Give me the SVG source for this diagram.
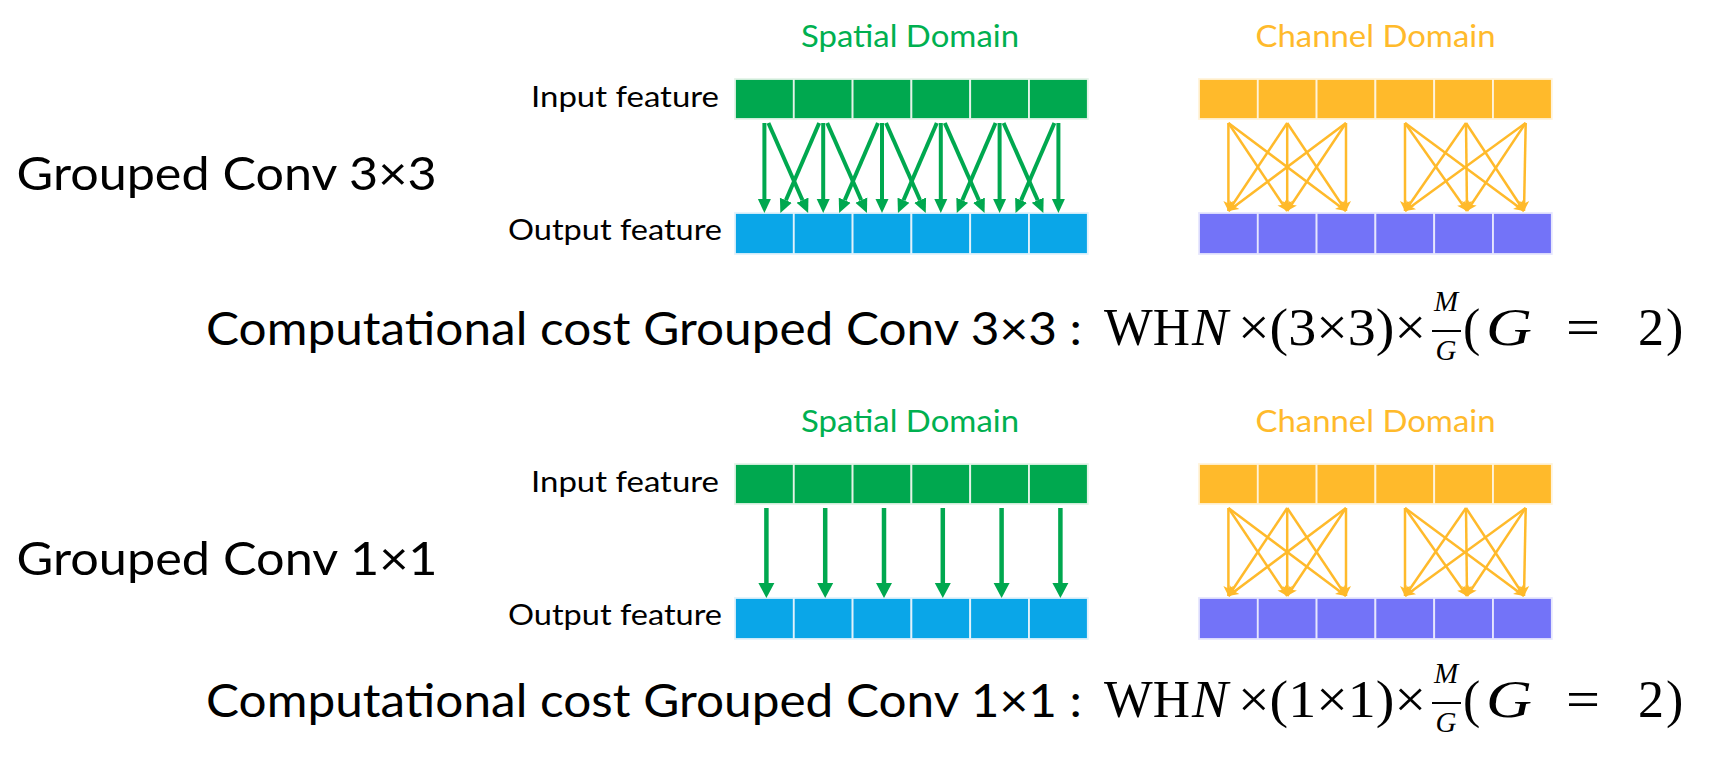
<svg xmlns="http://www.w3.org/2000/svg" width="1731" height="761" viewBox="0 0 1731 761">
<style>
.sans{font-family:Lato,"Open Sans","Liberation Sans",sans-serif;}
.math{font-family:"Liberation Serif","DejaVu Serif",serif;fill:#000;}
.mm{font-size:52px;}
.fr{font-size:29px;font-style:italic;text-anchor:middle;}
.it{font-style:italic;}
.lbl{font-size:29.5px;fill:#000;text-anchor:end;}
.dom{font-size:30px;text-anchor:middle;}
.big{font-size:46px;fill:#000;}
.g{fill:#00A84F;stroke:#E4F3E8;stroke-width:1.8;}
.b{fill:#0AA6E8;stroke:#E2F2FB;stroke-width:1.8;}
.o{fill:#FFBA2B;stroke:#FFF3DA;stroke-width:1.8;}
.p{fill:#7373F8;stroke:#E6E6FD;stroke-width:1.8;}
.ga{stroke:#00A84F;stroke-width:4;fill:none;marker-end:url(#ag);}
.ga2{stroke:#00A84F;stroke-width:4.5;fill:none;marker-end:url(#ag2);}
.oa{stroke:#FFBA2B;stroke-width:2.5;fill:none;marker-end:url(#ao);}
</style>
<defs>
<marker id="ag" viewBox="0 -7 15 14" markerWidth="15" markerHeight="14" refX="0" refY="0" markerUnits="userSpaceOnUse" orient="auto"><path d="M0,-6.5 L14,0 L0,6.5 z" fill="#00A84F"/></marker>
<marker id="ag2" viewBox="0 -9 16 18" markerWidth="16" markerHeight="18" refX="0" refY="0" markerUnits="userSpaceOnUse" orient="auto"><path d="M0,-8 L15,0 L0,8 z" fill="#00A84F"/></marker>
<marker id="ao" viewBox="0 -6 11 12" markerWidth="11" markerHeight="12" refX="10" refY="0" markerUnits="userSpaceOnUse" orient="auto"><path d="M0,-5 L10,0 L0,5 L2.5,0 z" fill="#FFBA2B"/></marker>
</defs>

<g id="label-grouped-3x3"><text class="sans big" x="16.6" y="190" textLength="420" lengthAdjust="spacingAndGlyphs">Grouped Conv 3×3</text></g>
<g id="label-grouped-1x1"><text class="sans big" x="16.6" y="575" textLength="421" lengthAdjust="spacingAndGlyphs">Grouped Conv 1×1</text></g>

<!-- Top section -->
<g id="spatial-title-1"><text class="sans dom" x="910" y="46.7" fill="#00B050" textLength="218" lengthAdjust="spacingAndGlyphs">Spatial Domain</text></g>
<g id="channel-title-1"><text class="sans dom" x="1375.5" y="46.7" fill="#FFBA2B" textLength="240" lengthAdjust="spacingAndGlyphs">Channel Domain</text></g>
<g id="input-label-1"><text class="sans lbl" x="719" y="107.3" textLength="188" lengthAdjust="spacingAndGlyphs">Input feature</text></g>
<g id="output-label-1"><text class="sans lbl" x="722" y="240" textLength="214" lengthAdjust="spacingAndGlyphs">Output feature</text></g>

<g id="spatial-input-1">
<rect class="g" x="735" y="79" width="58.8" height="40"/><rect class="g" x="793.8" y="79" width="58.8" height="40"/><rect class="g" x="852.6" y="79" width="58.8" height="40"/><rect class="g" x="911.4" y="79" width="58.8" height="40"/><rect class="g" x="970.2" y="79" width="58.8" height="40"/><rect class="g" x="1029" y="79" width="58.8" height="40"/>
</g>
<g id="spatial-output-1">
<rect class="b" x="735" y="213" width="58.8" height="41"/><rect class="b" x="793.8" y="213" width="58.8" height="41"/><rect class="b" x="852.6" y="213" width="58.8" height="41"/><rect class="b" x="911.4" y="213" width="58.8" height="41"/><rect class="b" x="970.2" y="213" width="58.8" height="41"/><rect class="b" x="1029" y="213" width="58.8" height="41"/>
</g>
<g id="channel-input-1">
<rect class="o" x="1199" y="79" width="58.8" height="40"/><rect class="o" x="1257.8" y="79" width="58.8" height="40"/><rect class="o" x="1316.6" y="79" width="58.8" height="40"/><rect class="o" x="1375.4" y="79" width="58.8" height="40"/><rect class="o" x="1434.2" y="79" width="58.8" height="40"/><rect class="o" x="1493" y="79" width="58.8" height="40"/>
</g>
<g id="channel-output-1">
<rect class="p" x="1199" y="213" width="58.8" height="41"/><rect class="p" x="1257.8" y="213" width="58.8" height="41"/><rect class="p" x="1316.6" y="213" width="58.8" height="41"/><rect class="p" x="1375.4" y="213" width="58.8" height="41"/><rect class="p" x="1434.2" y="213" width="58.8" height="41"/><rect class="p" x="1493" y="213" width="58.8" height="41"/>
</g>

<g id="formula-1">
<text class="sans big" x="206" y="345" textLength="876" lengthAdjust="spacingAndGlyphs">Computational cost Grouped Conv 3×3 :</text>
<text class="math mm" x="1104" y="345" textLength="86" lengthAdjust="spacingAndGlyphs">WH</text>
<text class="math mm it" x="1192" y="345" textLength="36" lengthAdjust="spacingAndGlyphs">N</text>
<text class="math mm" x="1238" y="345" textLength="188" lengthAdjust="spacingAndGlyphs">×(3×3)×</text>
<text class="math fr" x="1446" y="311">M</text>
<line x1="1432" y1="331" x2="1461" y2="331" stroke="#000" stroke-width="2"/>
<text class="math fr" x="1446" y="360">G</text>
<text class="math mm" x="1463" y="345">(</text>
<text class="math mm it" x="1486" y="345" textLength="46" lengthAdjust="spacingAndGlyphs">G</text>
<text class="math mm" x="1566" y="345" textLength="34" lengthAdjust="spacingAndGlyphs">=</text>
<text class="math mm" x="1638" y="345">2</text>
<text class="math mm" x="1666" y="345">)</text>
</g>

<!-- Bottom section -->
<g id="spatial-title-2"><text class="sans dom" x="910" y="431.7" fill="#00B050" textLength="218" lengthAdjust="spacingAndGlyphs">Spatial Domain</text></g>
<g id="channel-title-2"><text class="sans dom" x="1375.5" y="431.7" fill="#FFBA2B" textLength="240" lengthAdjust="spacingAndGlyphs">Channel Domain</text></g>
<g id="input-label-2"><text class="sans lbl" x="719" y="492.3" textLength="188" lengthAdjust="spacingAndGlyphs">Input feature</text></g>
<g id="output-label-2"><text class="sans lbl" x="722" y="625" textLength="214" lengthAdjust="spacingAndGlyphs">Output feature</text></g>

<g id="spatial-input-2">
<rect class="g" x="735" y="464" width="58.8" height="40"/><rect class="g" x="793.8" y="464" width="58.8" height="40"/><rect class="g" x="852.6" y="464" width="58.8" height="40"/><rect class="g" x="911.4" y="464" width="58.8" height="40"/><rect class="g" x="970.2" y="464" width="58.8" height="40"/><rect class="g" x="1029" y="464" width="58.8" height="40"/>
</g>
<g id="spatial-output-2">
<rect class="b" x="735" y="598" width="58.8" height="41"/><rect class="b" x="793.8" y="598" width="58.8" height="41"/><rect class="b" x="852.6" y="598" width="58.8" height="41"/><rect class="b" x="911.4" y="598" width="58.8" height="41"/><rect class="b" x="970.2" y="598" width="58.8" height="41"/><rect class="b" x="1029" y="598" width="58.8" height="41"/>
</g>
<g id="channel-input-2">
<rect class="o" x="1199" y="464" width="58.8" height="40"/><rect class="o" x="1257.8" y="464" width="58.8" height="40"/><rect class="o" x="1316.6" y="464" width="58.8" height="40"/><rect class="o" x="1375.4" y="464" width="58.8" height="40"/><rect class="o" x="1434.2" y="464" width="58.8" height="40"/><rect class="o" x="1493" y="464" width="58.8" height="40"/>
</g>
<g id="channel-output-2">
<rect class="p" x="1199" y="598" width="58.8" height="41"/><rect class="p" x="1257.8" y="598" width="58.8" height="41"/><rect class="p" x="1316.6" y="598" width="58.8" height="41"/><rect class="p" x="1375.4" y="598" width="58.8" height="41"/><rect class="p" x="1434.2" y="598" width="58.8" height="41"/><rect class="p" x="1493" y="598" width="58.8" height="41"/>
</g>

<g id="formula-2">
<text class="sans big" x="206" y="717" textLength="876" lengthAdjust="spacingAndGlyphs">Computational cost Grouped Conv 1×1 :</text>
<text class="math mm" x="1104" y="717" textLength="86" lengthAdjust="spacingAndGlyphs">WH</text>
<text class="math mm it" x="1192" y="717" textLength="36" lengthAdjust="spacingAndGlyphs">N</text>
<text class="math mm" x="1238" y="717" textLength="188" lengthAdjust="spacingAndGlyphs">×(1×1)×</text>
<text class="math fr" x="1446" y="683">M</text>
<line x1="1432" y1="703" x2="1461" y2="703" stroke="#000" stroke-width="2"/>
<text class="math fr" x="1446" y="732">G</text>
<text class="math mm" x="1463" y="717">(</text>
<text class="math mm it" x="1486" y="717" textLength="46" lengthAdjust="spacingAndGlyphs">G</text>
<text class="math mm" x="1566" y="717" textLength="34" lengthAdjust="spacingAndGlyphs">=</text>
<text class="math mm" x="1638" y="717">2</text>
<text class="math mm" x="1666" y="717">)</text>
</g>

<g id="connectors">
<line class="ga" x1="764.4" y1="123" x2="764.4" y2="199"/>
<line class="ga" x1="823.2" y1="123" x2="823.2" y2="199"/>
<line class="ga" x1="882" y1="123" x2="882" y2="199"/>
<line class="ga" x1="940.8" y1="123" x2="940.8" y2="199"/>
<line class="ga" x1="999.6" y1="123" x2="999.6" y2="199"/>
<line class="ga" x1="1058.4" y1="123" x2="1058.4" y2="199"/>
<line class="ga" x1="768.4" y1="123" x2="802.5" y2="200.2"/>
<line class="ga" x1="827.2" y1="123" x2="861.3" y2="200.2"/>
<line class="ga" x1="886" y1="123" x2="920.1" y2="200.2"/>
<line class="ga" x1="944.8" y1="123" x2="978.9" y2="200.2"/>
<line class="ga" x1="1003.6" y1="123" x2="1037.7" y2="200.2"/>
<line class="ga" x1="819.2" y1="123" x2="785.9" y2="200.2"/>
<line class="ga" x1="878" y1="123" x2="844.7" y2="200.2"/>
<line class="ga" x1="936.8" y1="123" x2="903.5" y2="200.2"/>
<line class="ga" x1="995.6" y1="123" x2="962.3" y2="200.2"/>
<line class="ga" x1="1054.4" y1="123" x2="1021.1" y2="200.2"/>

<line class="oa" x1="1228.4" y1="123" x2="1228.4" y2="211"/>
<line class="oa" x1="1228.4" y1="123" x2="1287.2" y2="211"/>
<line class="oa" x1="1228.4" y1="123" x2="1346" y2="211"/>
<line class="oa" x1="1287.2" y1="123" x2="1228.4" y2="211"/>
<line class="oa" x1="1287.2" y1="123" x2="1287.2" y2="211"/>
<line class="oa" x1="1287.2" y1="123" x2="1346" y2="211"/>
<line class="oa" x1="1346" y1="123" x2="1228.4" y2="211"/>
<line class="oa" x1="1346" y1="123" x2="1287.2" y2="211"/>
<line class="oa" x1="1346" y1="123" x2="1346" y2="211"/>
<line class="oa" x1="1405" y1="123" x2="1405" y2="211"/>
<line class="oa" x1="1405" y1="123" x2="1467" y2="211"/>
<line class="oa" x1="1405" y1="123" x2="1524" y2="211"/>
<line class="oa" x1="1466" y1="123" x2="1405" y2="211"/>
<line class="oa" x1="1466" y1="123" x2="1467" y2="211"/>
<line class="oa" x1="1466" y1="123" x2="1524" y2="211"/>
<line class="oa" x1="1525.7" y1="123" x2="1405" y2="211"/>
<line class="oa" x1="1525.7" y1="123" x2="1467" y2="211"/>
<line class="oa" x1="1525.7" y1="123" x2="1524" y2="211"/>

<line class="ga2" x1="766.4" y1="508" x2="766.4" y2="583"/>
<line class="ga2" x1="825.2" y1="508" x2="825.2" y2="583"/>
<line class="ga2" x1="884" y1="508" x2="884" y2="583"/>
<line class="ga2" x1="942.8" y1="508" x2="942.8" y2="583"/>
<line class="ga2" x1="1001.6" y1="508" x2="1001.6" y2="583"/>
<line class="ga2" x1="1060.4" y1="508" x2="1060.4" y2="583"/>

<line class="oa" x1="1228.4" y1="508" x2="1228.4" y2="596"/>
<line class="oa" x1="1228.4" y1="508" x2="1287.2" y2="596"/>
<line class="oa" x1="1228.4" y1="508" x2="1346" y2="596"/>
<line class="oa" x1="1287.2" y1="508" x2="1228.4" y2="596"/>
<line class="oa" x1="1287.2" y1="508" x2="1287.2" y2="596"/>
<line class="oa" x1="1287.2" y1="508" x2="1346" y2="596"/>
<line class="oa" x1="1346" y1="508" x2="1228.4" y2="596"/>
<line class="oa" x1="1346" y1="508" x2="1287.2" y2="596"/>
<line class="oa" x1="1346" y1="508" x2="1346" y2="596"/>
<line class="oa" x1="1405" y1="508" x2="1405" y2="596"/>
<line class="oa" x1="1405" y1="508" x2="1467" y2="596"/>
<line class="oa" x1="1405" y1="508" x2="1524" y2="596"/>
<line class="oa" x1="1466" y1="508" x2="1405" y2="596"/>
<line class="oa" x1="1466" y1="508" x2="1467" y2="596"/>
<line class="oa" x1="1466" y1="508" x2="1524" y2="596"/>
<line class="oa" x1="1525.7" y1="508" x2="1405" y2="596"/>
<line class="oa" x1="1525.7" y1="508" x2="1467" y2="596"/>
<line class="oa" x1="1525.7" y1="508" x2="1524" y2="596"/>
</g>
</svg>
